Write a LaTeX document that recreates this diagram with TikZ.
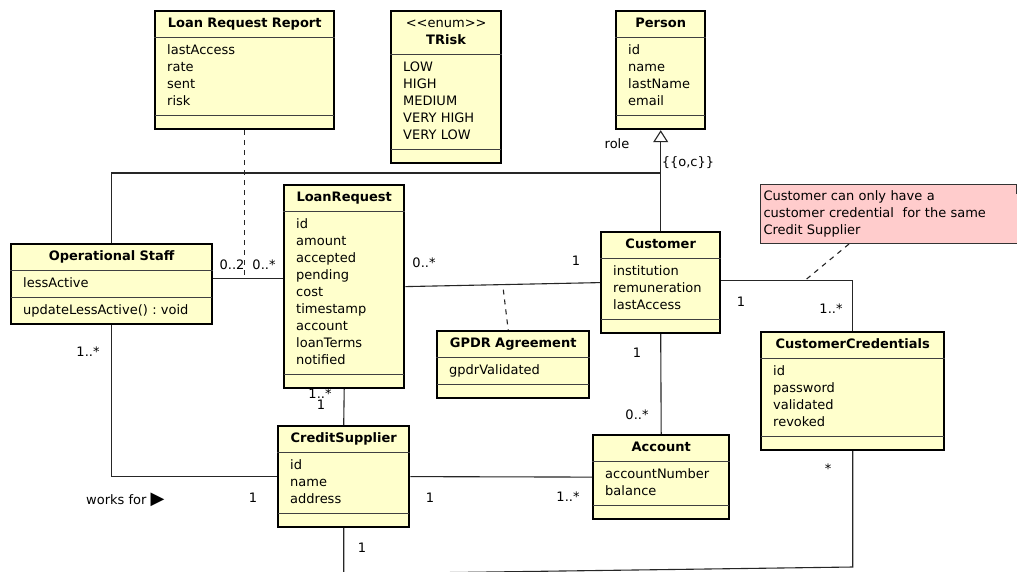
\documentclass[tikz,border=0pt]{standalone}
\usepackage{fontspec}
\setmainfont{DejaVu Sans}
\usetikzlibrary{shapes.multipart, arrows.meta, positioning, calc}
\definecolor{umlyellow}{RGB}{255,255,204}
\definecolor{notepink}{RGB}{255,204,204}
\newcommand{\umlfont}{\fontsize{13}{17}\selectfont}
\newcommand{\umltitle}[1]{\makebox[\linewidth]{\strut\textbf{#1}}}
\newcommand{\umlempty}{\rule{0pt}{4pt}}
\tikzset{
    umlclass/.style={rectangle split, rectangle split parts=3,
        rectangle split draw splits=false,
        draw=black, line width=2.4pt, fill=umlyellow,
        text width=#1, inner xsep=12pt, inner ysep=3.6pt,
        align=left, anchor=north west, font=\umlfont},
    splitline/.style={draw=black!75, line width=1.2pt, shorten <=1pt, shorten >=1pt},
    assoc/.style={draw=black!85, line width=1.1pt},
    dashlink/.style={assoc, dash pattern=on 5pt off 5pt},
    mult/.style={font=\umlfont, inner sep=0pt},
    notebox/.style={draw=black!80, line width=1pt, fill=notepink,
        text width=256pt, inner xsep=3pt, inner ysep=4pt,
        align=left, anchor=north west, font=\umlfont}
}

\begin{document}
\begin{tikzpicture}[x=1pt, y=-1pt]
    \useasboundingbox (0,0) rectangle (1017,571);
    \clip (0,0) rectangle (1017,571);
    \fill[white] (0,0) rectangle (1017,571);

    % classes
    \node[umlclass=155pt] (report) at (154,10) {\umltitle{Loan Request Report}
        \nodepart{two}\strut lastAccess\\rate\\sent\\risk\strut
        \nodepart{three}\umlempty};
    \node[umlclass=86pt] (trisk) at (390,10) {\makebox[\linewidth]{\strut<{}<enum>{}>}\\\umltitle{TRisk}
        \nodepart{two}\strut LOW\\HIGH\\MEDIUM\\VERY HIGH\\VERY LOW\strut
        \nodepart{three}\umlempty};
    \node[umlclass=65pt] (person) at (615,10) {\umltitle{Person}
        \nodepart{two}\strut id\\name\\lastName\\email\strut
        \nodepart{three}\umlempty};
    \node[umlclass=177pt] (staff) at (10,243) {\umltitle{Operational Staff}
        \nodepart{two}\strut lessActive\strut
        \nodepart{three}\strut updateLessActive() :\ void\strut};
    \node[umlclass=96pt] (lr) at (283,184) {\umltitle{LoanRequest}
        \nodepart{two}\strut id\\amount\\accepted\\pending\\cost\\timestamp\\account\\loanTerms\\notified\strut
        \nodepart{three}\umlempty};
    \node[umlclass=128pt] (gpdr) at (436,330) {\umltitle{GPDR Agreement}
        \nodepart{two}\strut gpdrValidated\strut
        \nodepart{three}\umlempty};
    \node[umlclass=95pt] (cust) at (600,231) {\umltitle{Customer}
        \nodepart{two}\strut institution\\remuneration\\lastAccess\strut
        \nodepart{three}\umlempty};
    \node[umlclass=159pt] (cred) at (760,331) {\umltitle{CustomerCredentials}
        \nodepart{two}\strut id\\password\\validated\\revoked\strut
        \nodepart{three}\umlempty};
    \node[umlclass=112pt] (acct) at (592,434) {\umltitle{Account}
        \nodepart{two}\strut accountNumber\\balance\strut
        \nodepart{three}\umlempty};
    \node[umlclass=107pt] (supp) at (277,425) {\umltitle{CreditSupplier}
        \nodepart{two}\strut id\\name\\address\strut
        \nodepart{three}\umlempty};
    \foreach \c in {report,trisk,person,staff,lr,gpdr,cust,cred,acct,supp}
        \draw[splitline] (\c.text split west) -- (\c.text split east)
                         (\c.two split west) -- (\c.two split east);

    % note
    \node[notebox] (note) at (760,184) {\strut Customer can only have a\\customer credential\ \ for the same\\Credit Supplier\strut};
    \draw[draw=black!80, line width=1pt] ([xshift=-7pt]note.north east) -- ++(0,9) -- ++(7,0);

    % generalisation
    \coordinate (gen) at (person.south |- 0,173);
    \draw[assoc, -{Triangle[open, width=15pt, length=12pt]}] (cust.north) -- (person.south);
    \draw[assoc] (staff.north) |- (gen);

    % associations
    \coordinate (sl) at ([yshift=6pt]staff.east);
    \draw[assoc] (sl) -- (sl -| lr.west);
    \draw[dashlink] (report.south) -- (report.south |- sl);
    \draw[assoc] (lr.east) -- (cust.west);
    \draw[dashlink, shorten <=5pt] ($(lr.east)!0.5!(cust.west)$) -- ([xshift=-5pt]gpdr.north);
    \coordinate (cb) at ([yshift=2pt]cust.east -| cred.north);
    \draw[assoc] ([yshift=2pt]cust.east) -- (cb) -- (cred.north);
    \draw[dashlink] ([xshift=89pt]note.south west) -- ([xshift=-48pt]cb);
    \draw[assoc] (cust.south) -- (acct.north);
    \draw[assoc] (lr.south) -- (supp.north);
    \draw[assoc] (staff.south) |- (supp.west);
    \draw[assoc] (supp.east) -- (acct.west);
    \coordinate (bl) at (supp.south |- 0,574);
    \coordinate (br) at (cred.south |- 0,567);
    \draw[assoc] (supp.south) -- (bl) -- (br) -- (cred.south);

    % labels
    \node[mult] (m1) at (232,265) {0..2};
    \node[mult] (m2) at (264,265) {0..*};
    \node[mult] (m3) at (424,263) {0..*};
    \node[mult] (m4) at (576,261) {1};
    \node[mult] (m5) at (741,302) {1};
    \node[mult] (m6) at (831,309) {1..*};
    \node[mult] (m7) at (637,353) {1};
    \node[mult] (m8) at (637,415) {0..*};
    \node[mult] (m9) at (88,352) {1..*};
    \node[mult] (m10) at (320,394) {1..*};
    \node[mult] (m11) at (321,405) {1};
    \node[mult] (m12) at (253,498) {1};
    \node[mult] (m13) at (430,498) {1};
    \node[mult] (m14) at (568,497) {1..*};
    \node[mult] (m15) at (828,469) {*};
    \node[mult] (m16) at (362,548) {1};
    \node[mult] (role) at (617,144) {role};
    \node[mult] (gset) at (688,163) {\{\{o,c\}\}};
    \node[mult, anchor=west] (works) at (86,500) {works for {\fontsize{18}{18}\selectfont ▶}};
\end{tikzpicture}
\end{document}
